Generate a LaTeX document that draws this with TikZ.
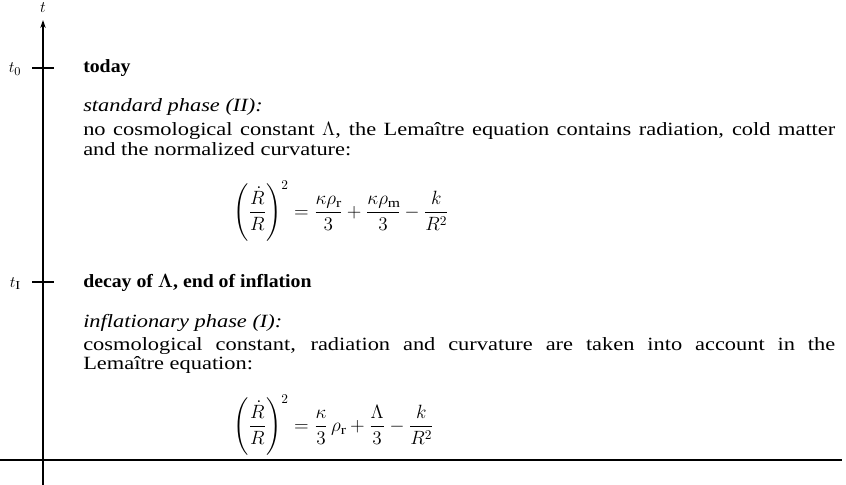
\documentclass[tikz,border=0pt]{standalone}
\usepackage{amsmath}
\usepackage{fontspec}
\setmainfont{Liberation Serif}[FakeStretch=1.2, BoldFeatures={FakeStretch=1.06}]
\usetikzlibrary{arrows.meta}

\begin{document}
\begin{tikzpicture}[x=0.75pt,y=-0.75pt,
  txt/.style={anchor=base west, inner sep=0pt, font=\fontsize{14}{14.25}\selectfont},
  para/.style={txt, text width=564pt, align=justify},
  tick/.style={line width=0.9pt},
  tlab/.style={anchor=base, inner sep=0pt, font=\fontsize{13}{13}\selectfont}]

\useasboundingbox (0,0) rectangle (846,485);

% Achse
\def\ax{43}
\coordinate (achseUnten) at (\ax,485);
\coordinate (achseOben) at (\ax,20);
\draw[line width=0.9pt, -{Stealth[length=6pt,width=4pt]}] (achseUnten) -- (achseOben);
\node[tlab] (tAchse) at (\ax,13) {$t$};

% Markierungen
\coordinate (heuteL) at (32,68);
\coordinate (heuteR) at (54,68);
\draw[tick] (heuteL) -- (heuteR);
\node[tlab] (tNull) at (15,73) {$t_0$};

\coordinate (inflL) at (32,282);
\coordinate (inflR) at (54,282);
\draw[tick] (inflL) -- (inflR);
\node[tlab] (tInfl) at (15,287) {$t_{\mathrm{I}}$};

% Grundlinie
\coordinate (linieL) at (0,460);
\coordinate (linieR) at (842,460);
\draw[line width=1.3pt] (linieL) -- (linieR);

% Standardphase
\node[txt, font=\fontsize{14}{14.25}\selectfont\bfseries] (heute) at (83,73) {today};
\node[txt, font=\fontsize{14}{14.25}\selectfont\itshape] (standard) at (83,112) {standard phase (II):};
\node[para] (standardText) at (83,136)
  {no cosmological constant $\Lambda$, the Lemaître equation contains radiation, cold matter\linebreak
   and the normalized curvature:};
\node[txt, anchor=west] (gleichungII) at (233,211)
  {$\displaystyle \left(\frac{\dot R}{R}\right)^{2} = \frac{\kappa\rho_{\mathrm r}}{3} + \frac{\kappa\rho_{\mathrm m}}{3} - \frac{k}{R^{2}}$};

% Inflationsphase
\node[txt, font=\fontsize{14}{14.25}\selectfont\bfseries] (zerfall) at (83,287) {decay of $\boldsymbol{\Lambda}$, end of inflation};
\node[txt, font=\fontsize{14}{14.25}\selectfont\itshape] (inflation) at (83,327) {inflationary phase (I):};
\node[para] (inflationText) at (83,350)
  {cosmological constant, radiation and curvature are taken into account in the\linebreak
   Lemaître equation:};
\node[txt, anchor=west] (gleichungI) at (233,425)
  {$\displaystyle \left(\frac{\dot R}{R}\right)^{2} = \frac{\kappa}{3}\,\rho_{\mathrm r} + \frac{\Lambda}{3} - \frac{k}{R^{2}}$};

\end{tikzpicture}
\end{document}
